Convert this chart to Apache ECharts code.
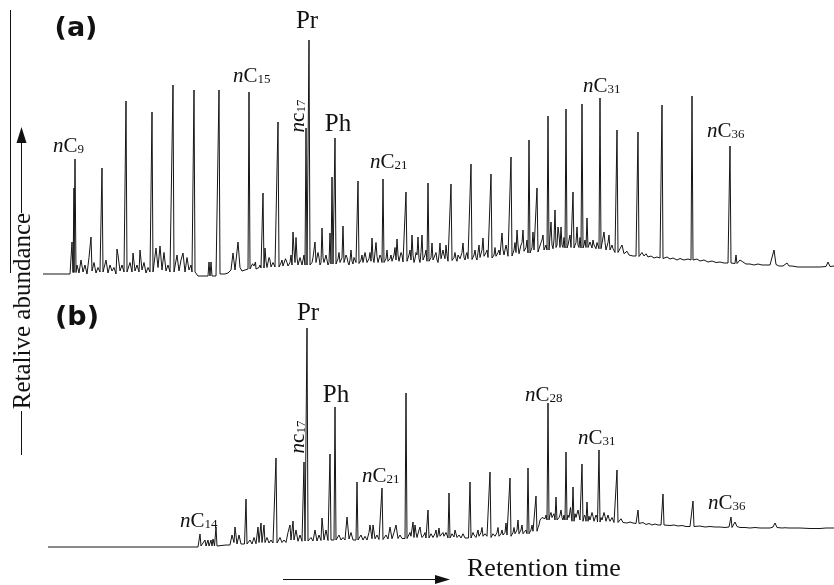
<!DOCTYPE html>
<html><head><meta charset="utf-8">
<script src="https://cdn.jsdelivr.net/npm/echarts@6/dist/echarts.min.js"></script>
<style>html,body{margin:0;padding:0;background:#fff}#c{width:834px;height:585px}</style>
</head><body><div id="c"></div>
<script>
// Retention time (arbitrary min) and relative abundance (%)
// Panel (a): baseline / noise trace points [time, abundance]
const traceA = [
 [0.3,2.4],[3.0,2.4],[3.2,15.2],[3.3,3],[3.7,6],[3.9,2.8],[4.1,8],[4.3,3.2],[4.5,6],[4.7,2.4],[4.9,9],[5.1,17.2],[5.2,3.6],[5.4,7],[5.6,2.8],[5.8,5],[6.0,3.2],
 [6.4,4],[6.6,8],[6.8,2.8],[7.0,6],[7.2,3.6],[7.4,5],[7.6,2.4],[7.7,12.4],[7.8,10],[8.0,3.6],[8.2,6],[8.4,3.2],
 [8.8,4],[9.0,7],[9.2,3.2],[9.3,10.8],[9.5,3.6],[9.7,6],[9.9,3.2],[10.0,12],[10.2,4],[10.4,7],[10.6,2.8],[10.8,5],[11.0,3.2],
 [11.4,4],[11.6,12.8],[11.8,5],[12.0,13.6],[12.2,4],[12.4,11],[12.6,3.6],[12.8,6],[13.0,3.2],
 [13.5,4],[13.7,10],[13.9,3.6],[14.1,8],[14.3,10.8],[14.5,3.2],[14.7,9],[14.9,4],[15.1,6],[15.2,3.2],
 [15.6,3.2],[15.8,1.6],[16.8,1.6],[16.9,7.2],[17.0,1.6],[17.1,7.2],[17.2,1.6],[17.6,1.6],
 [18.1,2.4],[18.5,2.4],[18.8,2.8],[19.1,4],[19.3,10.8],[19.5,4],[19.8,15.2],[20.0,5],[20.2,3.6],[20.5,4],
 [21.1,4.4],[21.4,5.6],[21.6,4.4],[21.9,5],[22.1,4.8],
 [22.5,12.8],[22.7,5],[22.9,9],[23.1,5.2],[23.3,7],[23.5,5.2],
 [24.0,5.6],[24.2,8],[24.4,5.2],[24.7,7],[24.9,5.6],[25.1,10],[25.3,19.2],[25.4,12],[25.6,17],[25.8,6],[26.0,9],[26.2,6],[26.4,10],
 [27.1,6],[27.3,9],[27.5,15.2],[27.6,7],[27.8,11],[28.0,6],[28.2,20.8],[28.4,7],[28.6,10],[28.8,6],[29.0,18.8],
 [29.7,7],[29.9,11],[30.1,6.4],[30.3,21.6],[30.5,7],[30.7,9],[30.9,6],[31.1,12],[31.3,6.4],[31.5,8],
 [32.0,6.8],[32.2,10],[32.4,6.4],[32.6,9],[32.8,6.8],[33.0,11],[33.2,16.8],[33.4,7],[33.6,15],[33.8,7],[34.0,10],
 [34.5,7.2],[34.7,12],[34.9,7],[35.1,10],[35.3,7.2],[35.5,13],[35.7,16.4],[35.9,7.5],[36.1,11],[36.3,7.2],
 [36.8,8],[37.0,12],[37.2,18],[37.4,7],[37.6,11],[37.8,17.2],[38.0,7],[38.2,18],[38.4,8],[38.6,12],
 [39.0,7],[39.2,14.8],[39.4,7.5],[39.6,11],[39.8,7],[40.0,14.8],[40.2,8],[40.4,10],[40.6,14],[40.8,7.5],
 [41.3,8],[41.5,11],[41.7,7.5],[41.9,10],[42.1,8],[42.3,14.8],[42.5,8],[42.7,11],[42.9,8],
 [43.3,8.5],[43.5,12],[43.7,8],[43.9,14],[44.1,8.5],[44.3,16.8],[44.5,9],[44.7,12],[44.9,8.5],
 [45.3,9],[45.5,13],[45.7,9],[45.9,12],[46.1,9.2],[46.2,18.8],[46.4,10],[46.6,14],[46.8,9.5],
 [47.3,10],[47.5,15],[47.7,20],[47.9,10.5],[48.1,14],[48.3,20],[48.5,11],[48.7,16],
 [49.1,11],[49.3,19.2],[49.5,11.2],[49.9,11.5],[50.1,15],[50.3,18],[50.5,11.5],
 [51.0,12],[51.1,23.2],[51.3,12.5],[51.5,28],[51.6,13],[51.8,21.2],[52.0,13],[52.1,21.2],[52.3,13],
 [52.8,14],[53.0,18],[53.1,13],[53.5,13],[53.7,21.2],[53.9,13],[54.4,14],[54.9,13],[55.0,15.2],[55.2,12.8],[55.4,14],[55.6,12.5],
 [56.2,12.5],[56.4,19.2],[56.6,12],[56.9,18],[57.1,11.5],[57.3,12.5],[57.5,11],
 [57.9,11],[58.2,14],[58.4,10.5],[58.7,11.5],[58.9,10],[59.1,10.8],[59.3,9.6],[59.6,9.6],
 [60.0,9.2],[60.2,11],[60.4,9.6],[60.6,10.5],[60.8,9.2],[61.1,9.6],[61.4,8.8],[61.7,9.2],[62.0,8.8],
 [62.4,8.4],[62.7,9.2],[63.0,8.4],[63.3,8.8],[63.7,8],[64.0,8.6],[64.4,8],[64.8,8.4],[65.0,8],
 [65.4,8],[65.7,8.4],[66.0,7.6],[66.4,8],[66.8,7.2],[67.2,7.6],[67.6,7],[68.0,7.2],[68.4,6.8],[68.8,6.8],
 [69.3,6.8],[69.9,6.4],[70.0,8],[70.3,7.2],[70.6,6.4],[71.0,6.4],[71.4,6],[71.8,6.4],[72.2,6],[72.6,6],[73.0,6],
 [73.2,6.4],[73.4,12],[73.6,6.2],[73.9,5.6],[74.3,5.6],[74.5,5.8],[74.7,6.8],[74.9,5.6],[75.2,5.6],[75.8,5.2],[76.5,5.2],[77.2,5.2],[78.0,5.2],
 [78.6,5.4],[78.8,7.2],[79.0,5.4],[79.4,5.6]
];
// Panel (a): extra noise wiggles in the dense middle part
const extraA = [
 [21.25,6.5],[21.55,7.2],[21.75,5],[22.0,6],[22.6,7.5],[22.8,5.2],[23.0,8],[23.2,5.5],[23.4,6.5],[23.6,5.4],
 [24.1,6.8],[24.3,5.6],[24.55,8.5],[24.8,5.6],[25.0,7],[25.2,6],[25.5,7],[25.7,9],[25.9,6.2],[26.1,8.5],[26.3,6.5],
 [27.2,7],[27.4,8.5],[27.7,6.5],[27.9,9],[28.1,7],[28.3,9],[28.5,6.8],[28.7,8],[28.9,7],
 [29.8,8.5],[30.0,7],[30.2,9],[30.4,7],[30.6,10],[30.8,7],[31.0,8],[31.2,7.5],[31.4,9],[31.6,7],
 [32.1,8],[32.3,7],[32.5,11],[32.7,7],[32.9,8.5],[33.1,7.5],[33.3,9],[33.5,7.5],[33.7,9.5],[33.9,7.5],[34.1,9],
 [34.6,8.5],[34.8,7.5],[35.0,8.5],[35.2,7.5],[35.4,10],[35.6,8],[35.8,10],[36.0,8],[36.2,10],[36.4,7.5],
 [36.9,10],[37.1,8],[37.3,10],[37.5,8.5],[37.7,10],[37.9,8.5],[38.1,11],[38.3,8],[38.5,10],
 [39.1,9],[39.3,8],[39.5,10],[39.7,8],[39.9,10],[40.1,8.5],[40.3,12],[40.5,8.5],[40.7,10],
 [41.4,9],[41.6,8.5],[41.8,10],[42.0,8.5],[42.2,11],[42.4,9],[42.6,10],[42.8,8.5],
 [43.4,10],[43.6,9],[43.8,11],[44.0,9],[44.2,12],[44.4,9.5],[44.6,11],[44.8,9],
 [45.4,10],[45.6,9.5],[45.8,11],[46.0,10],[46.3,12],[46.5,10],[46.7,12],[46.9,10],
 [47.4,12],[47.6,11],[47.8,14],[48.0,11],[48.2,15],[48.4,11.5],[48.6,13],
 [49.2,13],[49.4,12],[50.0,12],[50.2,16],[50.4,12],[50.6,14],
 [51.2,14],[51.4,16],[51.7,14],[51.9,18],[52.2,14],[52.4,17],[52.9,16],[53.6,15],[53.8,14],[54.0,17],[54.5,16],
 [55.1,14],[55.3,16],[55.5,13.5],[55.7,15],[56.3,13],[56.5,15],[56.7,12.5],[56.8,15],[57.0,12],[57.2,14],[57.4,12]
];
// Panel (a): main peaks [time, apex abundance, foot abundance]
const peaksA = [
 [3.4,36.8,3],[3.5,48.4,3],[6.2,44.8,3.2],[8.6,71.6,3.2],[11.2,67.2,3.2],[13.3,78,3.2],[15.4,76,3.2],[17.9,76,2.4],
 [20.9,75.2,4.4],[22.3,34.8,4.8],[23.8,63.2,5.2],[26.6,60.8,6],[26.9,96,6],[29.2,41.2,6.4],[29.5,56.8,6.4],
 [31.8,39.6,6.6],[34.3,40.4,7],[36.6,35.2,7.5],[38.8,38.8,7.5],[41.1,38.4,7.8],[43.1,46.4,8.2],[45.1,42.4,8.8],
 [47.1,49.2,9.6],[48.9,56,10.8],[49.7,36.8,11.2],[50.8,65.6,12],[52.6,68.4,12.8],[53.3,35.2,12.8],[54.2,70.4,12.8],
 [54.7,24.8,13],[56.0,72.8,12.5],[57.7,60,11],[59.8,59.2,9.4],[62.2,70,8.6],[65.2,73.6,8],[69.0,53.6,6.8],[69.6,10,6.6]
];
// Panel (b): baseline / noise trace points [time, abundance]
const traceB = [
 [0.8,5.2],[15.8,5.2],[16.3,5.6],[16.5,8],[16.6,5.6],[16.8,8],[16.9,5.6],[17.1,8],[17.2,5.6],[17.3,8.4],[17.45,5.6],
 [17.8,6],[18.6,6],[18.8,6],[19.0,6],[19.2,10],[19.4,7],[19.5,13.2],[19.7,6.4],[19.9,10],[20.1,6.4],[20.3,7],[20.45,6.4],
 [20.8,6.6],[21.0,8],[21.2,6.4],[21.4,9],[21.6,6.5],[21.8,13.2],[21.9,7],[22.1,14.8],[22.2,7],[22.4,14],[22.5,7],[22.7,9],[22.9,6.8],[23.1,8],[23.3,6.8],
 [23.8,7],[24.0,9],[24.2,7],[24.4,8],[24.6,7],[24.8,11],[25.0,14],[25.1,8],[25.3,15.6],[25.4,8],[25.6,12],[25.8,7.5],[26.0,10],[26.2,7.5],
 [26.9,7.6],[27.1,9],[27.3,7.6],[27.5,12],[27.7,7.6],[27.9,10],[28.1,7.8],[28.2,16.8],[28.4,8],[28.6,12],[28.8,7.8],
 [29.7,8],[29.9,10],[30.1,8],[30.3,9],[30.5,8],[30.7,17.2],[30.9,8.4],[31.1,11],[31.3,8],
 [31.9,8],[32.1,10],[32.3,8],[32.5,9.5],[32.7,8],[32.9,11],[33.0,14],[33.2,8.5],[33.3,14],[33.5,8.5],[33.7,10],[33.9,8.2],
 [34.4,8.4],[34.6,10],[34.8,8.4],[35.0,13.2],[35.2,8.5],[35.4,11],[35.6,14],[35.8,8.6],[36.0,10],[36.2,8.6],
 [36.8,8.8],[37.0,11],[37.3,15.2],[37.4,9],[37.5,14],[37.7,9],[37.9,12],[38.0,13.2],[38.2,9],[38.4,10],[38.6,8.8],
 [39.0,9],[39.2,10],[39.4,8.8],[39.6,12],[39.7,9],[39.9,12.8],[40.1,9],[40.3,11],[40.5,8.8],[40.7,10],
 [41.1,9],[41.3,10],[41.5,12],[41.7,9],[41.9,10],[42.1,8.8],[42.3,10.5],[42.5,8.8],[42.7,9.5],[42.85,8.8],
 [43.2,9],[43.4,10],[43.6,9],[43.8,12],[44.0,9],[44.2,13],[44.4,9],[44.6,11],[44.85,9],
 [45.2,9.2],[45.4,10],[45.6,9],[45.8,13],[46.0,9.2],[46.2,12],[46.4,10],[46.6,14.8],[46.85,9.5],
 [47.2,10],[47.4,13],[47.6,10],[47.8,16],[48.0,10],[48.2,14],[48.4,10.5],[48.6,12],
 [49.0,11],[49.2,14],[49.4,11.2],[49.8,13],[50.0,16],[50.2,17],[50.4,16.5],[50.6,18],
 [51.1,19],[51.3,16.5],[51.9,17],[52.1,20],[52.3,16],[52.9,17],[53.05,21],[53.6,17],[53.8,20],[54.0,16],[54.45,18],
 [55.0,16],[55.2,19],[55.4,15.5],[55.6,18],[55.75,15.2],[56.2,16],[56.4,19],[56.6,15.5],[56.8,18],[57.0,15.5],[57.2,17],[57.4,15],
 [58.0,15],[58.1,16.5],[58.3,15],[58.5,15.5],[58.7,14.8],[59.0,15.2],[59.3,14.8],[59.6,14.6],
 [60.0,14.5],[60.3,15],[60.6,14.2],[60.9,14.6],[61.2,14],[61.5,14.4],[61.8,14],[62.1,14],
 [62.6,14],[63.0,13.8],[63.4,14],[63.8,13.6],[64.2,13.8],[64.6,13.4],[65.0,13.4],
 [65.6,13.4],[66.0,13.6],[66.5,13.2],[67.0,13.4],[67.5,13.2],[68.0,13.2],[68.5,13],[68.9,13.2],
 [69.3,13.4],[69.5,15.2],[69.7,13.4],[70.0,13],[70.5,13],[71.0,12.8],[71.5,13],[72.0,12.8],[72.5,12.8],[73.0,12.8],
 [73.3,13.2],[73.5,14.8],[73.7,13],[74.2,12.8],[74.5,12.9],[74.7,13.6],[74.9,12.8],[76.0,12.8],[77.0,12.6],[78.0,12.6],
 [78.6,12.8],[78.8,13.6],[79.0,12.8],[79.4,12.8]
];
// Panel (b): extra noise wiggles in the dense middle part
const extraB = [
 [37.1,9.5],[37.6,11],[37.8,9.5],[38.1,10.5],[38.3,9.2],[38.5,11],[39.1,10.5],[39.3,9],[39.5,10.5],[39.8,10],[40.0,9.5],[40.2,10],[40.4,9.5],[40.6,11],
 [41.2,10.5],[41.4,9.2],[41.6,10.5],[41.8,9.2],[42.0,10],[42.2,9],[42.4,11],[42.6,9],
 [43.3,11],[43.5,9.2],[43.7,10.5],[43.9,9.5],[44.1,11],[44.3,9.5],[44.5,10.5],[44.7,9.5],
 [45.3,10.5],[45.5,9.5],[45.7,11],[45.9,9.5],[46.1,10.5],[46.3,10],[46.5,11],[46.7,10],
 [47.3,11],[47.5,10.5],[47.7,12],[47.9,10.5],[48.1,12],[48.3,10.5],[48.5,11],[49.1,12],[49.3,11.5],[49.9,14],
 [50.1,16.5],[50.3,17.5],[50.5,16.5],[51.0,18],[51.2,17],[51.4,18.5],[51.8,16.5],[52.0,18],[52.2,17],[52.4,18],
 [52.8,18],[53.0,16.5],[53.5,18.5],[53.7,16.5],[53.9,18],[54.55,17],[54.9,17.5],[55.1,16.5],[55.3,17.5],[55.5,16],[55.7,17],
 [56.1,17],[56.3,16.5],[56.5,17.5],[56.7,16],[56.9,16.5],[57.1,15.5],[57.3,16]
];
// Panel (b): main peaks [time, apex abundance, foot abundance]
const peaksB = [
 [16.0,10.4,5.6],[17.6,13.2,5.6],[20.6,24.4,6.4],[23.6,40.8,6.8],[26.4,39.2,7.6],[26.7,92.8,7.6],[29.0,42.4,8],[29.5,61.2,8],
 [31.7,31.2,8],[34.2,28.8,8.2],[36.6,66.8,8.6],[38.8,20,8.8],[40.9,26.8,8.8],[43.0,31.2,8.8],[45.0,35.2,9],[47.0,32.8,9.5],
 [48.8,36.8,10.5],[49.6,25.6,11.5],[50.8,62.8,16],[51.6,25.2,16],[52.6,43.2,16],[53.3,29.2,15.5],[54.2,38.4,15.5],
 [54.7,23.2,15.5],[55.9,44,15.2],[57.7,36,15],[59.8,20,14.6],[62.3,26.4,14],[65.3,23.6,13.4],[69.1,17.2,13]
];
// Peak labels
const labelsA = ['nC9','nC15','nc17','Pr','Ph','nC21','nC31','nC36'];
const labelsB = ['nC14','nc17','Pr','Ph','nC21','nC28','nC31','nC36'];
const panelTitles = ['(a)','(b)'];
const axisTitles = ['Retalive abundance','Retention time'];

function buildTrace(noise, peaks) {
  const w = 0.1;
  const pts = noise.map(p => [p[0], p[1]]);
  peaks.forEach(p => { pts.push([p[0]-w, p[2]], [p[0], p[1]], [p[0]+w, p[2]]); });
  pts.sort((a, b) => a[0] - b[0]);
  return pts;
}

const SERIF = '"Liberation Serif","Times New Roman",serif';
const rich = {
  n: {fontFamily: SERIF, fontStyle: 'italic', fontSize: 21, fill: '#111', verticalAlign: 'bottom'},
  c: {fontFamily: SERIF, fontSize: 21, fill: '#111', verticalAlign: 'bottom'},
  s: {fontFamily: SERIF, fontSize: 13, fill: '#111', verticalAlign: 'bottom'}
};
function richText(lbl) {
  const m = lbl.match(/^n([Cc])(\d+)$/);
  return '{n|n}{c|' + m[1] + '}{s|' + m[2] + '}';
}
function nLabel(lbl, x, y, rot) {
  return {type: 'text', x: x, y: y, rotation: rot || 0, silent: true,
    style: {text: richText(lbl), rich: rich, align: rot ? 'center' : 'left', textAlign: rot ? 'center' : 'left',
      verticalAlign: 'middle', textVerticalAlign: 'middle'}};
}
function plainLabel(txt, x, y, font, rot) {
  return {type: 'text', x: x, y: y, rotation: rot || 0, silent: true,
    style: {text: txt, font: font, fill: '#111', align: 'center', textAlign: 'center', verticalAlign: 'middle', textVerticalAlign: 'middle'}};
}

const chart = echarts.init(document.getElementById('c'), null, {renderer: 'canvas'});
const lineStyle = {color: '#151515', width: 1};
const graphic = [
  plainLabel(panelTitles[0], 76, 29, 'bold 27px "DejaVu Sans", sans-serif'),
  plainLabel(panelTitles[1], 77, 318, 'bold 27px "DejaVu Sans", sans-serif'),
  nLabel(labelsA[0], 53, 146),
  nLabel(labelsA[1], 233, 76),
  nLabel(labelsA[2], 298, 116, Math.PI / 2),
  plainLabel(labelsA[3], 307, 21, '25px ' + SERIF),
  plainLabel(labelsA[4], 338, 124, '25px ' + SERIF),
  nLabel(labelsA[5], 370, 162),
  nLabel(labelsA[6], 583, 86),
  nLabel(labelsA[7], 707, 131),
  nLabel(labelsB[0], 180, 521),
  nLabel(labelsB[1], 298, 437, Math.PI / 2),
  plainLabel(labelsB[2], 308, 313, '25px ' + SERIF),
  plainLabel(labelsB[3], 336, 395, '25px ' + SERIF),
  nLabel(labelsB[4], 362, 476),
  nLabel(labelsB[5], 525, 395),
  nLabel(labelsB[6], 578, 438),
  nLabel(labelsB[7], 708, 503),
  {type: 'line', silent: true, shape: {x1: 10.5, y1: 10, x2: 10.5, y2: 273}, style: {stroke: '#111', lineWidth: 1}},
  {type: 'line', silent: true, shape: {x1: 21.5, y1: 142, x2: 21.5, y2: 213}, style: {stroke: '#111', lineWidth: 1}},
  {type: 'polygon', silent: true, shape: {points: [[21.5, 127], [16.5, 143], [26.5, 143]]}, style: {fill: '#111'}},
  {type: 'line', silent: true, shape: {x1: 21.5, y1: 411, x2: 21.5, y2: 455}, style: {stroke: '#111', lineWidth: 1}},
  plainLabel(axisTitles[0], 23, 311, '25px ' + SERIF, Math.PI / 2),
  {type: 'line', silent: true, shape: {x1: 283, y1: 579.5, x2: 437, y2: 579.5}, style: {stroke: '#111', lineWidth: 1}},
  {type: 'polygon', silent: true, shape: {points: [[450, 579.5], [435, 575], [435, 584]]}, style: {fill: '#111'}},
  {type: 'text', x: 467, y: 569, silent: true, style: {text: axisTitles[1], font: '26px ' + SERIF, fill: '#111', align: 'left', textAlign: 'left', verticalAlign: 'middle', textVerticalAlign: 'middle'}}
];

chart.setOption({
  animation: false,
  backgroundColor: '#fff',
  grid: [
    {left: 40, top: 30, width: 794, height: 250},
    {left: 40, top: 310, width: 794, height: 250}
  ],
  xAxis: [
    {gridIndex: 0, type: 'value', min: 0, max: 79.4, show: false},
    {gridIndex: 1, type: 'value', min: 0, max: 79.4, show: false}
  ],
  yAxis: [
    {gridIndex: 0, type: 'value', min: 0, max: 100, show: false},
    {gridIndex: 1, type: 'value', min: 0, max: 100, show: false}
  ],
  series: [
    {type: 'line', xAxisIndex: 0, yAxisIndex: 0, data: buildTrace(traceA.concat(extraA), peaksA), showSymbol: false, symbol: 'none', lineStyle: lineStyle, silent: true, clip: false},
    {type: 'line', xAxisIndex: 1, yAxisIndex: 1, data: buildTrace(traceB.concat(extraB), peaksB), showSymbol: false, symbol: 'none', lineStyle: lineStyle, silent: true, clip: false}
  ],
  graphic: graphic
});
</script>
</body></html>
